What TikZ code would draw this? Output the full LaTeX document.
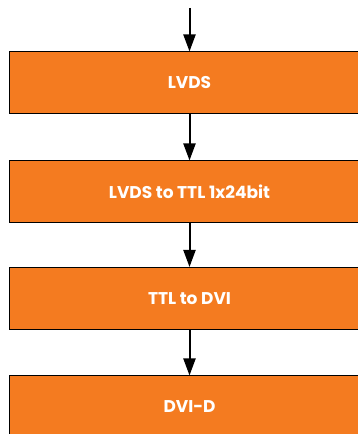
\documentclass[tikz,border=0pt]{standalone}
\usepackage{fontspec}
\setmainfont{Poppins}
\usepackage{xcolor}
\usetikzlibrary{arrows.meta}

\definecolor{blockorange}{HTML}{F47B20}

\begin{document}
\begin{tikzpicture}[x=1pt, y=1pt, line width=1pt,
    block/.style={draw=black, fill=blockorange, text=white, font=\bfseries\fontsize{17}{19}\selectfont,
                  minimum width=361pt, minimum height=62pt, inner sep=0pt},
    flow/.style={line width=2pt, -{Triangle[length=17pt, width=12pt]}}]

% fix page size
\useasboundingbox (0, 0) rectangle (358, 434);
\clip (0, 0) rectangle (358, 434);

% draw blocks
\node[block] (lvds)   at (189.5, 351)   {LVDS};
\node[block] (lvdsttl) at (189.5, 242)  {LVDS to TTL 1x24bit};
\node[block] (ttldvi) at (189.5, 135.5) {TTL to DVI};
\node[block] (dvid)   at (189.5, 27)    {DVI-D};

% draw signal flow
\coordinate (input) at (189.5, 426);
\draw[flow] (input) -- (lvds.north);
\draw[flow] (lvds.south) -- (lvdsttl.north);
\draw[flow] (lvdsttl.south) -- (ttldvi.north);
\draw[flow] (ttldvi.south) -- (dvid.north);

\end{tikzpicture}
\end{document}
